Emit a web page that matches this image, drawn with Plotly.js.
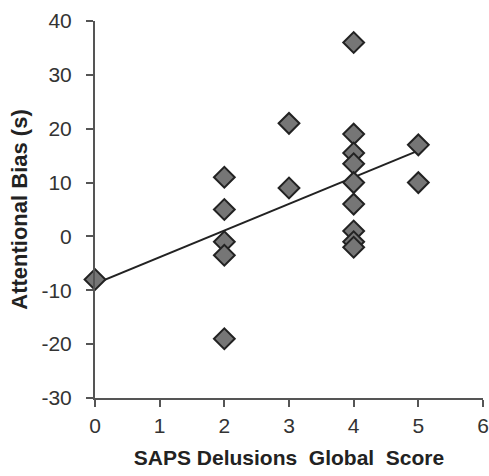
<!DOCTYPE html>
<html>
<head>
<meta charset="utf-8">
<script src="https://cdn.plot.ly/plotly-3.0.1.min.js"></script>
<style>html,body{margin:0;padding:0;background:#fff;}#chart{width:489px;height:476px;}</style>
</head>
<body>
<div id="chart"></div>
<script>
// SAPS Delusions Global Score (x) vs Attentional Bias in seconds (y)
const scores = [0, 2, 2, 2, 2, 2, 3, 3, 4, 4, 4, 4, 4, 4, 4, 4, 4, 5, 5];
const bias   = [-8, 11, 5, -1, -3.5, -19, 21, 9, 36, 19, 15.5, 13.5, 10, 6, 1, -1, -2, 17, 10];
const xTicks = [0, 1, 2, 3, 4, 5, 6];
const yTicks = [-30, -20, -10, 0, 10, 20, 30, 40];

// least-squares fit computed from the data
const n = scores.length;
const mx = scores.reduce((a, b) => a + b, 0) / n;
const my = bias.reduce((a, b) => a + b, 0) / n;
let sxy = 0, sxx = 0;
for (let i = 0; i < n; i++) { sxy += (scores[i] - mx) * (bias[i] - my); sxx += (scores[i] - mx) ** 2; }
const slope = sxy / sxx, intercept = my - slope * mx;
const fitX = [Math.min(...scores), Math.max(...scores)];
const fitY = fitX.map(x => intercept + slope * x);

const traces = [
  { x: fitX, y: fitY, mode: 'lines', type: 'scatter', line: { color: '#222', width: 2 }, hoverinfo: 'skip', cliponaxis: false },
  { x: scores, y: bias, mode: 'markers', type: 'scatter', cliponaxis: false,
    marker: { symbol: 'diamond', size: 16, color: '#767676', line: { color: '#222', width: 2 } } }
];
const font = { family: 'Liberation Sans, Arial, sans-serif', color: '#333' };
const layout = {
  width: 489, height: 476,
  margin: { l: 95, r: 6, t: 21, b: 78 },
  paper_bgcolor: '#fff', plot_bgcolor: '#fff',
  showlegend: false,
  font: font,
  xaxis: {
    range: [0, 6], tickvals: xTicks, ticktext: xTicks.map(String),
    showgrid: false, zeroline: false, showline: true, linecolor: '#555', linewidth: 2,
    ticks: 'outside', ticklen: 7, tickwidth: 2, tickcolor: '#555', ticklabelstandoff: 1,
    tickfont: { size: 21, color: '#333', family: font.family },
    title: { text: 'SAPS Delusions  Global  Score', font: { size: 21, color: '#222', family: font.family, weight: 'bold' }, standoff: 14 }
  },
  yaxis: {
    range: [-30, 40], tickvals: yTicks, ticktext: yTicks.map(String),
    showgrid: false, zeroline: false, showline: true, linecolor: '#555', linewidth: 2,
    ticks: 'outside', ticklen: 7, tickwidth: 2, tickcolor: '#555', ticklabelstandoff: 10,
    tickfont: { size: 21, color: '#333', family: font.family },
    title: { text: 'Attentional Bias (s)', font: { size: 22, color: '#222', family: font.family, weight: 'bold' }, standoff: 8 }
  }
};
Plotly.newPlot('chart', traces, layout, { staticPlot: true, displayModeBar: false });
</script>
</body>
</html>
